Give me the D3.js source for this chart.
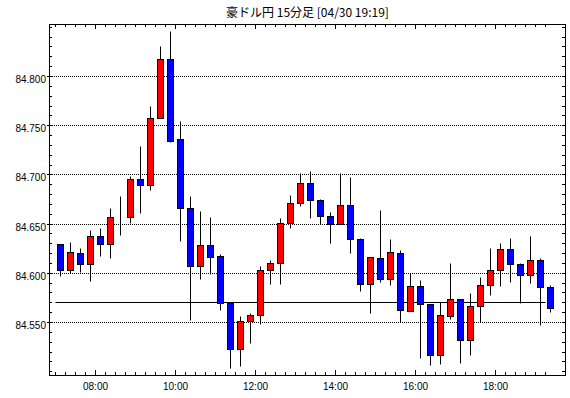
<!DOCTYPE html>
<html>
<head>
<meta charset="utf-8">
<script src="https://cdnjs.cloudflare.com/ajax/libs/d3/7.8.5/d3.min.js"></script>
<style>
body { margin: 0; background: #fff; }
svg { display: block; }
text { font-family: "Liberation Sans", Arial, sans-serif; }
</style>
</head>
<body>
<div id="chart"></div>
<script>
// chart data
const title = "豪ドル円 15分足 [04/30 19:19]";

const times = ["07:00","07:15","07:30","07:45","08:00","08:15","08:30","08:45","09:00","09:15",
    "09:30","09:45","10:00","10:15","10:30","10:45","11:00","11:15","11:30","11:45",
    "12:00","12:15","12:30","12:45","13:00","13:15","13:30","13:45","14:00","14:15",
    "14:30","14:45","15:00","15:15","15:30","15:45","16:00","16:15","16:30","16:45",
    "17:00","17:15","17:30","17:45","18:00","18:15","18:30","18:45","19:00","19:15"];

const opens = [84.629,84.603,84.620,84.609,84.637,84.629,84.657,84.657,84.695,84.689,
    84.757,84.817,84.736,84.666,84.607,84.628,84.617,84.569,84.523,84.551,
    84.557,84.603,84.610,84.651,84.671,84.691,84.674,84.658,84.650,84.669,
    84.634,84.589,84.615,84.594,84.620,84.561,84.587,84.568,84.516,84.556,
    84.573,84.532,84.566,84.588,84.603,84.624,84.609,84.598,84.613,84.586];

const highs = [84.629,84.631,84.625,84.643,84.646,84.666,84.678,84.698,84.729,84.770,
    84.830,84.846,84.754,84.678,84.663,84.657,84.619,84.569,84.556,84.559,
    84.607,84.613,84.656,84.679,84.701,84.703,84.675,84.662,84.701,84.697,
    84.635,84.616,84.664,84.634,84.623,84.600,84.593,84.568,84.570,84.610,
    84.573,84.579,84.596,84.625,84.630,84.635,84.610,84.637,84.615,84.588];

const lows = [84.597,84.600,84.601,84.592,84.617,84.615,84.638,84.651,84.661,84.684,
    84.757,84.733,84.632,84.552,84.594,84.599,84.562,84.503,84.505,84.529,
    84.548,84.589,84.589,84.646,84.668,84.656,84.650,84.630,84.650,84.620,
    84.581,84.559,84.591,84.588,84.550,84.561,84.513,84.506,84.507,84.553,
    84.508,84.516,84.550,84.577,84.587,84.591,84.569,84.590,84.547,84.560];

const closes = [84.603,84.621,84.609,84.637,84.629,84.657,84.657,84.695,84.689,84.757,
    84.817,84.734,84.666,84.607,84.628,84.616,84.569,84.523,84.551,84.557,
    84.603,84.610,84.651,84.671,84.691,84.674,84.658,84.650,84.669,84.634,
    84.589,84.616,84.594,84.621,84.562,84.587,84.568,84.516,84.557,84.573,
    84.532,84.566,84.588,84.603,84.624,84.609,84.598,84.613,84.586,84.564];

// flat reference line across the session
const refLevel = 84.570;
const refStart = "07:00";
const refEnd = "19:15";

const yTicks = [84.550, 84.600, 84.650, 84.700, 84.750, 84.800];
const yMinorTicks = [84.50,84.51,84.52,84.53,84.54,84.55,84.56,84.57,84.58,84.59,
    84.60,84.61,84.62,84.63,84.64,84.65,84.66,84.67,84.68,84.69,
    84.70,84.71,84.72,84.73,84.74,84.75,84.76,84.77,84.78,84.79,
    84.80,84.81,84.82,84.83,84.84,84.85];
const xLabels = ["08:00","10:00","12:00","14:00","16:00","18:00"];

const parseTime = d3.timeParse("%H:%M");

// size of the picture and the plot box
const W = 570, H = 398;
const plotL = 49, plotR = 565, plotT = 24, plotB = 375;

const svg = d3.select("#chart")
    .append("svg")
    .attr("width", W)
    .attr("height", H);

// x scale: 10px per 15 minutes
const x = d3.scaleTime()
    .domain([parseTime("06:51"), parseTime("19:45")])
    .range([plotL, plotR]);

// y scale, rounded so the dotted lines stay crisp
const y = d3.scaleLinear()
    .domain([84.49614, 84.85285])
    .range([plotB, plotT])
    .interpolate(d3.interpolateRound);

const candles = times.map((t, i) => ({
    t: parseTime(t),
    o: opens[i], h: highs[i], l: lows[i], c: closes[i]
}));

const halfSlot = 7.5 * 60 * 1000;
const cx = d => x(new Date(d.t.getTime() + halfSlot)) + 0.5;

// title
svg.append("text")
    .attr("x", (plotL + plotR) / 2 + 0.5)
    .attr("y", 17)
    .attr("text-anchor", "middle")
    .style("font-family", "'Noto Sans CJK JP', 'Liberation Sans', sans-serif")
    .style("font-size", "12px")
    .attr("fill", "#000")
    .text(title);

// dotted grid lines
svg.append("g")
    .selectAll("line")
    .data(yTicks)
    .enter()
    .append("line")
        .attr("x1", plotL + 1)
        .attr("x2", plotR)
        .attr("y1", d => y(d) + 0.5)
        .attr("y2", d => y(d) + 0.5)
        .attr("stroke", "#000")
        .attr("stroke-dasharray", "1,1");

// reference line
svg.append("line")
    .attr("x1", x(parseTime(refStart)) + 0.5)
    .attr("x2", x(parseTime(refEnd)) + 0.5)
    .attr("y1", y(refLevel) + 0.5)
    .attr("y2", y(refLevel) + 0.5)
    .attr("stroke", "#000")
    .attr("stroke-width", 1);

// minor / major tick values for the time axis
const xMinor = times.map(parseTime);
const xMajor = xLabels.map(parseTime);

// bottom axis, ticks point inward
svg.append("g")
    .attr("transform", "translate(0," + plotB + ")")
    .call(d3.axisBottom(x).tickValues(xMinor).tickSize(-3).tickFormat(""))
    .call(g => g.select(".domain").remove());

svg.append("g")
    .attr("class", "xlab")
    .attr("transform", "translate(0," + plotB + ")")
    .call(d3.axisBottom(x).tickValues(xMajor).tickSize(-5).tickPadding(8)
        .tickFormat(d3.timeFormat("%H:%M")))
    .call(g => g.select(".domain").remove());

// top axis mirrors the bottom
svg.append("g")
    .attr("transform", "translate(0," + plotT + ")")
    .call(d3.axisTop(x).tickValues(xMinor).tickSize(-3).tickFormat(""))
    .call(g => g.select(".domain").remove());

svg.append("g")
    .attr("transform", "translate(0," + plotT + ")")
    .call(d3.axisTop(x).tickValues(xMajor).tickSize(-5).tickFormat(""))
    .call(g => g.select(".domain").remove());

// left axis: minor ticks inward, labels outside
svg.append("g")
    .attr("transform", "translate(" + plotL + ",0)")
    .call(d3.axisLeft(y).tickValues(yMinorTicks).tickSize(-3).tickFormat(""))
    .call(g => g.select(".domain").remove());

svg.append("g")
    .attr("class", "ylab")
    .attr("transform", "translate(" + plotL + ",0)")
    .call(d3.axisLeft(y).tickValues(yTicks).tickSize(2).tickPadding(1)
        .tickFormat(d3.format(".3f")))
    .call(g => g.select(".domain").remove());

// right axis, inward ticks only
svg.append("g")
    .attr("transform", "translate(" + plotR + ",0)")
    .call(d3.axisRight(y).tickValues(yMinorTicks).tickSize(-3).tickFormat(""))
    .call(g => g.select(".domain").remove());

svg.selectAll(".xlab text, .ylab text")
    .style("font-family", "'Liberation Sans', Arial, sans-serif")
    .style("font-size", "10px")
    .attr("fill", "#000");
svg.selectAll(".ylab text").attr("dy", "0.6em");
svg.selectAll(".tick line").attr("stroke", "#000");

// frame around the plot
svg.append("rect")
    .attr("x", plotL + 0.5)
    .attr("y", plotT + 0.5)
    .attr("width", plotR - plotL)
    .attr("height", plotB - plotT)
    .attr("fill", "none")
    .attr("stroke", "#000");

// the candles: wick first, then body
let candleG = svg.append("g");

candleG.selectAll("line.wick")
    .data(candles)
    .enter()
    .append("line")
        .attr("class", "wick")
        .attr("x1", cx)
        .attr("x2", cx)
        .attr("y1", d => y(d.h) + 0.5)
        .attr("y2", d => y(d.l) + 0.5)
        .attr("stroke", "#000");

candleG.selectAll("rect.body")
    .data(candles)
    .enter()
    .append("rect")
        .attr("class", "body")
        .attr("x", d => cx(d) - 3)
        .attr("y", d => y(Math.max(d.o, d.c)) + 0.5)
        .attr("width", 6)
        .attr("height", d => y(Math.min(d.o, d.c)) - y(Math.max(d.o, d.c)))
        .attr("fill", d => d.c > d.o ? "#ff0000" : (d.c < d.o ? "#0000ff" : "#000"))
        .attr("stroke", "#000")
        .attr("stroke-width", 1);
</script>
</body>
</html>
